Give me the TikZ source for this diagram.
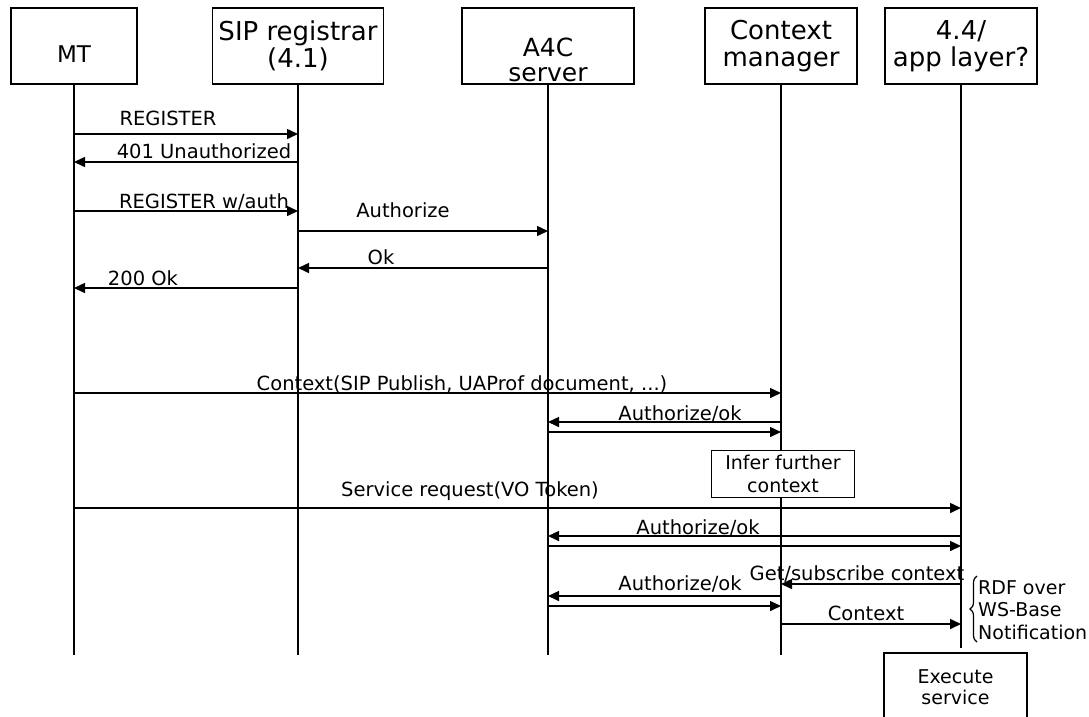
\documentclass[tikz,border=0pt]{standalone}
\usepackage{fontspec}
\setmainfont{DejaVu Sans}
\usetikzlibrary{arrows.meta,decorations.pathreplacing}

\begin{document}
\begin{tikzpicture}[x=1pt,y=-1pt,>={Triangle[length=11pt,width=10pt]}]

	\tikzset{actor/.style={draw,line width=1.6pt,minimum width=152pt,minimum height=76pt,
				align=center,inner sep=2pt,font=\fontsize{26}{27}\selectfont}}
	\tikzset{life/.style={line width=1.5pt}}
	\tikzset{msg/.style={->,line width=1.5pt}}
	\tikzset{msglabel/.style={anchor=base,inner sep=0pt,font=\fontsize{19.5}{22}\selectfont}}
	\tikzset{note/.style={draw,fill=white,line width=1.5pt,align=center,inner sep=2pt,
				font=\fontsize{19}{23}\selectfont}}

	\useasboundingbox (0,0) rectangle (1089,716);

	% the five parties
	\node[actor,minimum width=126pt,text height=32pt,text depth=0pt,
		font=\fontsize{23}{27}\selectfont] (MT) at (74,46) {MT};
	\node[actor,minimum width=171pt] (SIP) at (298,46) {SIP registrar\\(4.1)};
	\node[actor,minimum width=172pt,text height=70pt,text depth=0pt,
		font=\fontsize{25}{25}\selectfont] (A4C) at (548,46) {A4C\\server};
	\node[actor] (CM) at (781,46) {Context\\manager};
	\node[actor] (APP) at (961,46) {4.4/\\app layer?};

	\foreach \a in {MT,SIP,A4C,CM} {
			\coordinate (\a-end) at (\a |- 0,655);
		}
	\coordinate (APP-end) at (APP |- 0,648);
	\foreach \a in {MT,SIP,A4C,CM,APP} {
			\draw[life] (\a.south) -- (\a-end);
		}

	\node[note,minimum width=143pt,minimum height=47pt] (infer) at (783,474) {Infer further\\context};

	% messages
	\foreach \n/\a/\b/\y in {reg/MT/SIP/134, unauth/SIP/MT/162, regauth/MT/SIP/211,
			authz/SIP/A4C/231, ok/A4C/SIP/268, okk/SIP/MT/288,
			ctx/MT/CM/393, azA/CM/A4C/422, azB/A4C/CM/432,
			svc/MT/APP/508, azC/APP/A4C/536, azD/A4C/APP/546,
			sub/APP/CM/584, azE/CM/A4C/596, azF/A4C/CM/606, ctxn/CM/APP/624} {
			\coordinate (\n-a) at (\a |- 0,\y);
			\coordinate (\n-b) at (\b |- 0,\y);
			\draw[msg] (\n-a) -- (\n-b);
		}

	\foreach \n/\x/\y/\t in {reg/168/125/{REGISTER}, unauth/204/158/{401 Unauthorized},
			regauth/204/208/{REGISTER w/auth}, authz/403/217/{Authorize}, ok/381/264/{Ok},
			okk/143/285/{200 Ok}, ctx/462/390/{Context(SIP Publish, UAProf document, ...)},
			azA/680/420/{Authorize/ok}, svc/470/496/{Service request(VO Token)},
			azC/698/534/{Authorize/ok}, sub/857/580/{Get/subscribe context},
			azE/680/590/{Authorize/ok}, ctxn/866/620/{Context}} {
			\node[msglabel] (\n-t) at (\x,\y) {\t};
		}

	% notification brace
	\coordinate (br-top) at (977,576);
	\coordinate (br-bot) at (977,642);
	\draw[line width=1.2pt,decorate,decoration={brace,amplitude=7pt}] (br-bot) -- (br-top);
	\node[anchor=west,align=left,inner sep=0pt,font=\fontsize{19}{22.5}\selectfont] (rdf)
	at (978,610) {RDF over\\WS-Base\\Notification};

	\node[note,minimum width=143pt,minimum height=69pt,font=\fontsize{19}{21}\selectfont] (exec)
	at (955.5,687.5) {Execute\\service};

\end{tikzpicture}
\end{document}
